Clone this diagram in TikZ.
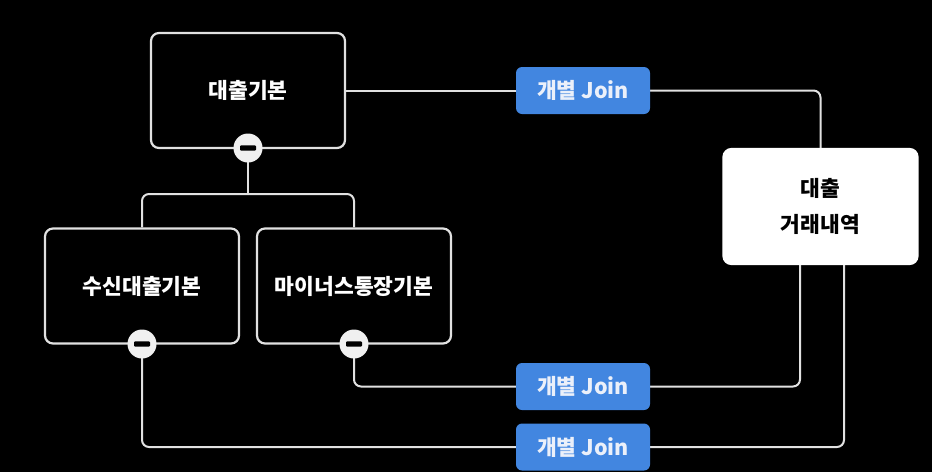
\documentclass[tikz,border=0pt]{standalone}
\usepackage{fontspec}
\newfontfamily\kr{Noto Sans CJK KR}
\usetikzlibrary{calc}
\pgfdeclarelayer{bg}
\pgfdeclarelayer{lines}
\pgfsetlayers{bg,lines,main}
\definecolor{lineC}{RGB}{225,225,225}
\definecolor{joinC}{RGB}{66,134,224}
\definecolor{joinT}{RGB}{235,240,250}
\tikzset{
  tbl/.style={draw=lineC, line width=2.2pt, rounded corners=8pt, minimum width=194pt, minimum height=115pt, inner sep=0pt, text=white, font=\kr\bfseries\fontsize{21.5}{36}\selectfont, align=center},
  tblw/.style={tbl, fill=white, draw=white, text=black},
  joinbox/.style={fill=joinC, rounded corners=6pt, minimum width=134pt, minimum height=47pt, inner sep=0pt, text=joinT, font=\kr\bfseries\fontsize{21.5}{24}\selectfont},
  minus/.style={circle, fill=white!94!black, minimum size=29pt, inner sep=0pt,
    path picture={\fill[black, rounded corners=1pt] ($(path picture bounding box.center)+(-8pt,-2.7pt)$) rectangle ($(path picture bounding box.center)+(8pt,2.7pt)$);}},
  conn/.style={draw=lineC, line width=2pt, rounded corners=7pt}
}
\begin{document}
\begin{tikzpicture}[x=1pt,y=-1pt]
\begin{pgfonlayer}{bg}
\fill[black] (0,0) rectangle (932,472);
\end{pgfonlayer}
\useasboundingbox (0,0) rectangle (932,472);

\node[tbl] (a1) at (248,90.5) {대출기본};
\node[tbl] (a2) at (142,286) {수신대출기본};
\node[tbl] (a3) at (354,286) {마이너스통장기본};
\node[tblw] (t) at (820.5,206.5) {대출\\거래내역};

\node[joinbox] (j1) at (583,90.5) {개별 Join};
\node[joinbox] (j2) at (583,386.5) {개별 Join};
\node[joinbox] (j3) at (583,447) {개별 Join};

\node[minus] (m1) at (248,148) {};
\node[minus] (m2) at (142,344) {};
\node[minus] (m3) at (354,344) {};

\coordinate (br) at (248,194);
\coordinate (tl) at (800,264);
\coordinate (tr) at (844,264);

\begin{pgfonlayer}{lines}
\draw[conn] (m1.center) -- (br);
\draw[conn] (br) -| (a2.north);
\draw[conn] (br) -| (a3.north);
\draw[conn] (a1.east) -- (j1.center);
\draw[conn] (j1.center) -| (t.north);
\draw[conn] (m3.center) |- (j2.center);
\draw[conn] (j2.center) -| (tl);
\draw[conn] (m2.center) |- (j3.center);
\draw[conn] (j3.center) -| (tr);
\end{pgfonlayer}
\end{tikzpicture}
\end{document}
